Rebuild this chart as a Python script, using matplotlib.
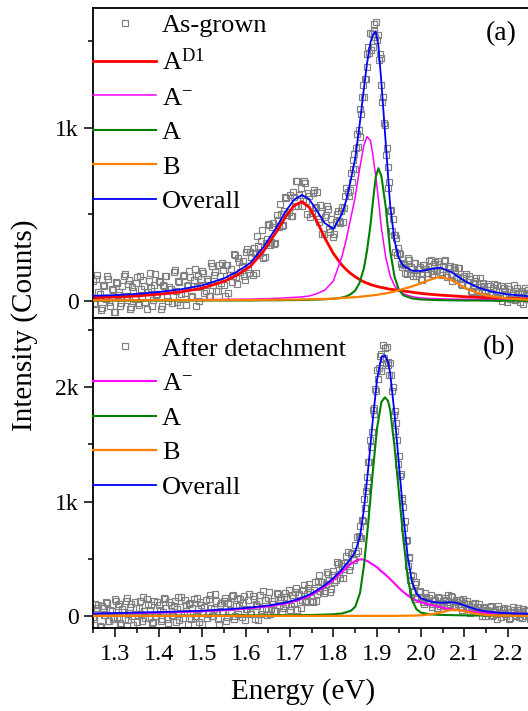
import numpy as np
import matplotlib.pyplot as plt
from matplotlib.ticker import MultipleLocator, FuncFormatter

plt.rcParams['font.family'] = ['Liberation Serif', 'DejaVu Serif']
plt.rcParams['mathtext.fontset'] = 'custom'
plt.rcParams['mathtext.rm'] = 'Liberation Serif'
plt.rcParams['mathtext.it'] = 'Liberation Serif:italic'

# ---- panel (a): as-grown ----
# measured spectrum (counts); first pass of samples
counts_a = [
    115, -10, 151, 41, -43, 87, 12, 128, -27, 64,
    -61, 105, 50, -9, 147, 27, 98, -46, 80, 10,
    141, -23, 68, 124, -5, 51, 162, -31, 95, 36,
    117, -47, 90, 146, 23, 79, -9, 167, 59, 115,
    -23, 144, 47, 84, 171, 23, 121, -27, 145, 88,
    175, 49, 128, 27, 221, 90, 170, 59, 143, 217,
    91, 207, 49, 185, 146, 263, 99, 223, 201, 145,
    283, 182, 280, 150, 275, 375, 266, 346, 246, 335,
    444, 323, 428, 327, 496, 428, 500, 437, 599, 497,
    609, 492, 599, 692, 550, 653, 586, 679, 504, 606,
    508, 639, 541, 471, 556, 385, 485, 547, 413, 475,
    367, 456, 520, 449, 545, 535, 652, 605,
    # 1.840 .. 1.948 (step 0.002)
    739, 687, 811, 761, 846, 762, 883, 966, 889, 988,
    948, 1110, 1077, 1175, 1244, 1177, 1280, 1281, 1422, 1348,
    1465, 1433, 1543, 1445, 1540, 1466, 1597, 1559, 1521, 1608,
    1505, 1535, 1390, 1425, 1400, 1248, 1145, 1175, 1028, 1013,
    842, 881, 775, 654, 687, 522, 525, 405, 472, 379,
    378, 280, 363, 263, 305,
    # 1.950 .. 2.250 (step 0.005)
    277, 215, 221, 161, 247, 162, 183, 218, 146, 187,
    125, 209, 183, 163, 228, 155, 212, 180, 230, 169,
    202, 235, 139, 192, 154, 194, 125, 190, 133, 92,
    144, 95, 147, 58, 101, 115, 59, 130, 66, 85,
    28, 97, 45, 76, 23, 94, 52, 1, 75, 22,
    88, 14, 49, 5, 74, 24, 56, -15, 49, 63,
    14,
]
energy_a = np.concatenate([np.linspace(1.25, 1.835, 118),
                           np.linspace(1.84, 1.948, 55),
                           np.linspace(1.95, 2.25, 61)])
# samples in between (1.2525 .. 1.8375 and 1.9525 .. 2.2475)
counts_a_mid = [
    -20, 126, 51, -53, 92, 17, 143, -7, 69, -66,
    110, 35, -29, 87, 157, 8, 124, -35, 55, 106,
    -13, 143, 24, 85, -44, 117, 73, 5, 156, 42,
    108, -26, 86, 147, -1, 70, 27, 178, -5, 111,
    43, 151, -22, 95, 137, 30, 182, 79, 2, 129,
    162, 56, 115, 29, 203, 148, 57, 206, 105, 179,
    29, 206, 152, 108, 270, 136, 249, 167, 231, 119,
    298, 161, 253, 303, 163, 318, 279, 409, 256, 360,
    439, 343, 448, 332, 467, 559, 431, 518, 593, 516,
    488, 631, 548, 691, 614, 550, 693, 579, 625, 487,
    624, 535, 631, 456, 506, 385, 496, 528, 399, 436,
    388, 502, 460, 520, 454, 608, 629, 643,
    271, 194, 208, 155, 234, 197, 145, 218, 164, 199,
    122, 210, 183, 159, 239, 171, 226, 181, 211, 150,
    230, 152, 188, 200, 115, 178, 141, 191, 96, 131,
    153, 89, 126, 52, 103, 132, 52, 81, 104, 52,
    26, 85, 34, 100, 55, 18, 89, 33, 59, -6,
    71, 34, 91, 12, 46, -6, 56, 75, 14, 36,
]
energy_a_mid = np.concatenate([np.linspace(1.2525, 1.8375, 118),
                               np.linspace(1.9525, 2.2475, 60)])

# fitted components
fit_e_a = [1.25, 1.30, 1.35, 1.40, 1.45, 1.50, 1.55, 1.58, 1.61, 1.64,
           1.67, 1.69, 1.71, 1.728, 1.745, 1.76, 1.78, 1.80, 1.82, 1.83,
           1.84, 1.85, 1.86, 1.87, 1.877, 1.885, 1.89, 1.897, 1.903, 1.91,
           1.92, 1.93, 1.94, 1.95, 1.96, 1.98, 2.00, 2.02, 2.045, 2.07,
           2.10, 2.13, 2.16, 2.20, 2.25]
AD1_a = [19, 23, 29, 39, 52, 74, 113, 150, 200, 287,
         400, 483, 550, 573, 540, 472, 366, 274, 206, 180,
         158, 140, 124, 110, 103, 95, 91, 86, 82, 78,
         73, 68, 65, 62, 58, 51, 44, 39, 34, 30,
         25, 21, 18, 15, 12]
Am_a = [5, 5, 6, 6, 7, 8, 9, 10, 11, 13,
        15, 18, 21, 24, 29, 40, 62, 115, 260, 360,
        480, 600, 760, 900, 948, 925, 850, 720, 590, 420,
        250, 145, 88, 58, 42, 25, 18, 15, 13, 11,
        10, 9, 8, 7, 6]
A_a = [2, 2, 2, 2, 3, 3, 3, 3, 3, 4,
       4, 5, 5, 6, 7, 8, 10, 13, 20, 27,
       40, 60, 105, 190, 290, 440, 560, 715, 766, 720,
       540, 290, 140, 65, 33, 15, 9, 7, 5, 4,
       3, 3, 2, 2, 2]
B_a = [4, 4, 4, 5, 5, 5, 6, 6, 6, 7,
       7, 8, 8, 9, 10, 11, 12, 14, 17, 19,
       21, 22, 24, 27, 29, 31, 33, 35, 37, 40,
       44, 49, 55, 62, 70, 84, 102, 122, 140, 122,
       78, 46, 27, 14, 7]
overall_a = [30, 34, 41, 52, 67, 90, 131, 169, 220, 311,
             426, 514, 584, 612, 586, 531, 450, 416, 503, 586,
             699, 822, 1013, 1227, 1370, 1491, 1534, 1556, 1475, 1258,
             907, 552, 348, 247, 203, 175, 173, 183, 192, 167,
             116, 79, 55, 38, 27]

# ---- panel (b): after detachment ----
counts_b = [
    -8, 106, 71, -85, 83, 6, 120, -48, 55, -29,
    145, -17, 104, -76, 39, 135, -39, 82, 4, 119,
    -55, 72, 18, 163, -17, 104, 56, -63, 135, -2,
    100, -43, 35, 150, -24, 121, 7, 86, -52, 165,
    75, -14, 136, 23, 102, -30, 151, 2, 57, 123,
    -68, 77, -18, 151, 68, 4, 191, -30, 97, 32,
    129, -44, 114, 25, 182, 4, 155, 90, -11, 177,
    58, 138, 32, 172, -30, 86, 131, 13, 219, 59,
    161, 14, 127, 45, 198, 92, 170, 68, 201, 146,
    56, 181, 117, 247, 182, 70, 228, 131, 189, 277,
    135, 227, 129, 307, 219, 301, 218, 384, 315, 240,
    391, 315, 455, 334, 438, 411, 525, 398, 541, 486,
    # 1.850 .. 1.988 (step 0.002)
    617, 554, 689, 567, 699, 679, 786, 685, 838, 828,
    1024, 947, 1089, 1211, 1131, 1345, 1349, 1535, 1476, 1606,
    1799, 1820, 1768, 1981, 1961, 2150, 2066, 2167, 2270, 2136,
    2286, 2193, 2367, 2257, 2339, 2209, 2348, 2190, 2222, 2102,
    2207, 2109, 1962, 1997, 1754, 1787, 1617, 1690, 1538, 1331,
    1397, 1226, 1243, 1016, 1034, 948, 766, 831, 651, 662,
    439, 505, 518, 312, 356, 207, 347, 220, 279, 298,
    # 1.990 .. 2.250 (step 0.005)
    151, 212, 164, 126, 197, 130, 158, 82, 142, 104,
    168, 84, 129, 157, 93, 122, 177, 78, 139, 103,
    139, 49, 110, 130, 60, 82, 31, 113, 51, 75,
    1, 81, 26, 42, 83, 5, 51, -25, 58, 27,
    69, 2, 39, -14, 81, 12, 50, -9, 31, 65,
    0, 54, -29,
]
energy_b = np.concatenate([np.linspace(1.25, 1.845, 120),
                           np.linspace(1.85, 1.988, 70),
                           np.linspace(1.99, 2.25, 53)])
counts_b_mid = [
    -26, 47, 95, -97, 72, 6, 114, -41, 43, -11,
    133, 86, -64, 57, -27, 159, 22, 106, -79, 71,
    6, 132, -41, 43, 146, -16, 99, -51, 4, 118,
    53, -25, 156, 72, -65, 97, -4, 134, 63, -39,
    166, 28, 95, -72, 114, 73, -22, 153, -51, 94,
    29, 138, 13, 182, -3, 59, 132, -71, 116, 33,
    160, -13, 103, 176, -27, 83, 18, 151, 116, -32,
    65, 193, 15, 149, 103, -32, 180, 56, 142, 6,
    208, 61, 109, 42, 195, 139, 32, 170, 109, 229,
    84, 159, 210, 55, 191, 139, 267, 120, 248, 206,
    126, 298, 196, 358, 300, 197, 276, 367, 208, 358,
    301, 470, 365, 459, 335, 463, 562, 440, 546, 486,
    163, 215, 163, 103, 169, 124, 182, 104, 139, 69,
    156, 117, 84, 143, 179, 104, 162, 79, 122, 142,
    75, 146, 79, 102, 30, 104, 76, 34, 105, 43,
    73, 1, 53, 81, 4, 37, 13, 87, -7, 50,
    13, 65, -24, 34, 53, -3, 72, 18, -22, 40,
    55, -1,
]
energy_b_mid = np.concatenate([np.linspace(1.2525, 1.8475, 120),
                               np.linspace(1.9925, 2.2475, 52)])

fit_e_b = [1.25, 1.30, 1.35, 1.40, 1.45, 1.50, 1.55, 1.60, 1.65, 1.69,
           1.72, 1.75, 1.78, 1.80, 1.82, 1.84, 1.85, 1.861, 1.87, 1.88,
           1.89, 1.90, 1.91, 1.918, 1.925, 1.93, 1.94, 1.95, 1.96, 1.97,
           1.98, 1.99, 2.00, 2.02, 2.035, 2.05, 2.065, 2.078, 2.09, 2.11,
           2.13, 2.15, 2.18, 2.21, 2.25]
Am_b = [18, 21, 25, 29, 34, 41, 51, 64, 84, 108,
        138, 185, 255, 315, 385, 455, 480, 495, 492, 475,
        450, 425, 390, 365, 340, 322, 285, 245, 210, 180,
        155, 135, 120, 100, 86, 72, 62, 55, 50, 40,
        32, 27, 21, 18, 15]
A_b = [3, 3, 3, 4, 4, 4, 5, 5, 6, 7,
       8, 9, 12, 15, 22, 45, 80, 200, 440, 820,
       1250, 1640, 1870, 1910, 1880, 1800, 1480, 1080, 680, 340,
       140, 60, 30, 15, 11, 9, 8, 7, 6, 5,
       5, 4, 4, 3, 3]
B_b = [1, 1, 1, 1, 1, 1, 1, 1, 1, 1,
       1, 1, 1, 1, 1, 1, 1, 1, 1, 1,
       1, 1, 1, 1, 1, 1, 1, 2, 2, 3,
       3, 4, 6, 13, 22, 35, 49, 56, 50, 33,
       17, 8, 3, 2, 1]
overall_b = [22, 25, 29, 34, 39, 46, 57, 70, 91, 116,
             147, 195, 268, 331, 408, 501, 561, 696, 933, 1296,
             1701, 2066, 2261, 2276, 2221, 2123, 1766, 1327, 892, 523,
             298, 199, 156, 128, 119, 116, 119, 118, 106, 78,
             54, 39, 28, 23, 19]

RED, MAG, GRN, ORG, BLU, GRY = '#ff0000', '#ff00ff', '#008000', '#ff7f00', '#0000ff', '#808080'


def kfmt(v, pos):
    if abs(v) < 1e-9:
        return '0'
    return f'{int(round(v / 1000))}k'


def style(ax, ymin, ymax, bottom_labels):
    ax.set_xlim(1.25, 2.25)
    ax.set_ylim(ymin, ymax)
    ax.xaxis.set_major_locator(MultipleLocator(0.1))
    ax.xaxis.set_minor_locator(MultipleLocator(0.05))
    ax.yaxis.set_major_locator(MultipleLocator(1000))
    ax.yaxis.set_minor_locator(MultipleLocator(500))
    ax.yaxis.set_major_formatter(FuncFormatter(kfmt))
    ax.xaxis.set_major_formatter(FuncFormatter(lambda v, p: f'{v:.1f}'))
    ax.tick_params(which='both', direction='out', top=False, right=False, width=1.1)
    ax.tick_params(which='major', length=6.5)
    ax.tick_params(which='minor', length=3.3)
    ax.tick_params(axis='y', labelsize=17, pad=4)
    ax.tick_params(axis='x', labelsize=17.5, pad=5, labelbottom=bottom_labels)
    for s in ax.spines.values():
        s.set_linewidth(1.3)
    ax.spines['right'].set_visible(False)


fig = plt.figure(figsize=(5.28, 7.11), dpi=100)
ax_a = fig.add_axes([93 / 528, 393 / 711, 437 / 528, 310 / 711])
ax_b = fig.add_axes([93 / 528, 83 / 711, 437 / 528, 310 / 711])

mk = dict(ls='none', marker='s', ms=4.7, mfc='none', mec=GRY, mew=0.85, zorder=1)

ax_a.plot(np.concatenate([energy_a, energy_a_mid]), counts_a + counts_a_mid,
          label='As-grown', **mk)
ax_a.plot(fit_e_a, AD1_a, color=RED, lw=2.0, label=r'A$^{\mathrm{D1}}$', zorder=2)
ax_a.plot(fit_e_a, Am_a, color=MAG, lw=1.1, label=r'A$^{-}$', zorder=3)
ax_a.plot(fit_e_a, A_a, color=GRN, lw=1.5, label='A', zorder=3)
ax_a.plot(fit_e_a, B_a, color=ORG, lw=1.6, label='B', zorder=3)
ax_a.plot(fit_e_a, overall_a, color=BLU, lw=1.3, label='Overall', zorder=4)
style(ax_a, -98, 1690, False)

ax_b.plot(np.concatenate([energy_b, energy_b_mid]), counts_b + counts_b_mid,
          label='After detachment', **mk)
ax_b.plot(fit_e_b, Am_b, color=MAG, lw=1.5, label=r'A$^{-}$', zorder=3)
ax_b.plot(fit_e_b, A_b, color=GRN, lw=1.5, label='A', zorder=3)
ax_b.plot(fit_e_b, B_b, color=ORG, lw=1.6, label='B', zorder=3)
ax_b.plot(fit_e_b, overall_b, color=BLU, lw=1.3, label='Overall', zorder=4)
style(ax_b, -105, 2603, True)

leg_kw = dict(loc='upper left', frameon=False, borderaxespad=0, borderpad=0,
              handlelength=2.39, handletextpad=0.23, labelspacing=0.42,
              fontsize=19, numpoints=1)
ax_a.legend(bbox_to_anchor=(0, 0.981), **leg_kw)
ax_b.legend(bbox_to_anchor=(0, 0.938), **leg_kw)

ax_a.text(0.934, 0.916, '(a)', transform=ax_a.transAxes, ha='center', va='center', fontsize=20)
ax_b.text(0.928, 0.906, '(b)', transform=ax_b.transAxes, ha='center', va='center', fontsize=20)

fig.text(25 / 528, 1 - 325 / 711, 'Intensity (Counts)', rotation=90,
         ha='center', va='center', fontsize=21)
fig.text(303 / 528, 1 - 692 / 711, 'Energy (eV)', ha='center', va='center', fontsize=21)

fig.savefig('out.png', dpi=100)
